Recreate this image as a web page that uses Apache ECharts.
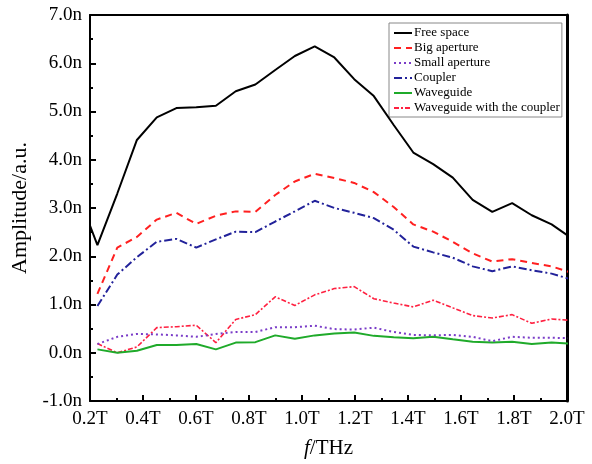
<!DOCTYPE html>
<html>
<head>
<meta charset="utf-8">
<script src="https://cdn.jsdelivr.net/npm/echarts@6/dist/echarts.min.js"></script>
<style>
html,body{margin:0;padding:0;background:#fff;}
#chart{width:592px;height:464px;}
</style>
</head>
<body>
<div id="chart"></div>
<script>
// Frequency points (THz)
var freq = [0.154, 0.228, 0.303, 0.377, 0.452, 0.526, 0.601, 0.675, 0.750, 0.824, 0.899, 0.973, 1.048, 1.122, 1.197, 1.271, 1.346, 1.420, 1.495, 1.569, 1.644, 1.718, 1.793, 1.867, 1.942, 2.016];
// Amplitudes (n a.u.)
var freeSpace = [3.30, 2.23, 3.30, 4.41, 4.88, 5.07, 5.09, 5.12, 5.42, 5.56, 5.86, 6.15, 6.35, 6.12, 5.67, 5.32, 4.72, 4.15, 3.91, 3.63, 3.17, 2.92, 3.10, 2.85, 2.66, 2.38];
var bigAperture = [null, 1.22, 2.18, 2.40, 2.76, 2.90, 2.67, 2.84, 2.93, 2.92, 3.27, 3.55, 3.71, 3.62, 3.52, 3.33, 3.02, 2.66, 2.51, 2.30, 2.06, 1.89, 1.94, 1.86, 1.79, 1.66];
var smallAperture = [null, 0.18, 0.33, 0.39, 0.38, 0.36, 0.33, 0.39, 0.43, 0.43, 0.53, 0.53, 0.56, 0.49, 0.48, 0.52, 0.43, 0.37, 0.36, 0.37, 0.33, 0.24, 0.33, 0.31, 0.31, 0.30];
var coupler = [null, 0.97, 1.62, 1.98, 2.30, 2.36, 2.18, 2.35, 2.51, 2.50, 2.72, 2.93, 3.15, 3.00, 2.90, 2.79, 2.55, 2.20, 2.08, 1.97, 1.79, 1.69, 1.79, 1.71, 1.64, 1.52];
var waveguide = [null, 0.07, 0.00, 0.04, 0.16, 0.16, 0.18, 0.07, 0.21, 0.22, 0.36, 0.29, 0.36, 0.40, 0.42, 0.35, 0.32, 0.30, 0.33, 0.28, 0.23, 0.21, 0.23, 0.18, 0.21, 0.19];
var waveguideCoupler = [null, 0.19, 0.00, 0.12, 0.52, 0.54, 0.57, 0.21, 0.69, 0.79, 1.16, 0.98, 1.20, 1.33, 1.37, 1.12, 1.03, 0.95, 1.09, 0.93, 0.77, 0.72, 0.79, 0.61, 0.70, 0.67];

var seriesNames = ['Free space', 'Big aperture', 'Small aperture', 'Coupler', 'Waveguide', 'Waveguide with the coupler'];
var seriesValues = [freeSpace, bigAperture, smallAperture, coupler, waveguide, waveguideCoupler];
var seriesColors = ['#000000', '#ff2020', '#7a3cc8', '#22229a', '#1faa2a', '#ff2040'];
var seriesDash = ['solid', [7, 5], [2, 3], [8, 3, 2, 3], 'solid', [5, 2, 2, 2]];
var seriesWidth = [2, 2, 2, 2, 2, 1.6];

var serif = 'Liberation Serif, Times New Roman, serif';

function pairs(vals) {
  return freq.map(function (f, i) { return [f, vals[i]]; });
}

var series = seriesNames.map(function (name, i) {
  return {
    name: name,
    type: 'line',
    data: pairs(seriesValues[i]),
    symbol: 'none',
    clip: true,
    connectNulls: false,
    lineStyle: { color: seriesColors[i], width: seriesWidth[i], type: seriesDash[i] },
    itemStyle: { color: seriesColors[i] },
    z: 10 - i
  };
});

var chart = echarts.init(document.getElementById('chart'), null, { renderer: 'canvas' });
chart.setOption({
  backgroundColor: '#ffffff',
  animation: false,
  grid: { left: 90, right: 25, top: 15, bottom: 59 },
  legend: {
    orient: 'vertical',
    left: 389,
    top: 23,
    padding: [3, 2, 2, 4],
    itemGap: 1,
    itemWidth: 18,
    itemHeight: 10,
    itemStyle: { opacity: 0 },
    borderColor: '#888',
    borderWidth: 1,
    backgroundColor: '#ffffff',
    textStyle: { fontFamily: serif, fontSize: 13, lineHeight: 14, color: '#000', padding: [0, 0, 0, -3] },
    data: seriesNames
  },
  xAxis: [{
    type: 'value',
    min: 0.2, max: 2.0, interval: 0.2,
    name: '{i|f}/THz',
    nameLocation: 'middle',
    nameGap: 37,
    nameTextStyle: { fontFamily: serif, fontSize: 21, color: '#000',
      rich: { i: { fontFamily: serif, fontSize: 21, fontStyle: 'italic', color: '#000' } } },
    axisLine: { show: true, onZero: false, lineStyle: { color: '#000', width: 2 } },
    axisTick: { show: true, inside: true, length: 6, lineStyle: { color: '#000', width: 2 } },
    minorTick: { show: true, splitNumber: 2, length: 3, lineStyle: { color: '#000', width: 2 } },
    axisLabel: { fontFamily: serif, fontSize: 19, color: '#000', margin: 9,
      formatter: function (v) { return v.toFixed(1) + 'T'; } },
    splitLine: { show: false }
  }, {
    type: 'value', position: 'top',
    min: 0.2, max: 2.0,
    axisLine: { show: true, onZero: false, lineStyle: { color: '#000', width: 2 } },
    axisTick: { show: false }, axisLabel: { show: false }, splitLine: { show: false }
  }],
  yAxis: [{
    type: 'value',
    min: -1, max: 7, interval: 1,
    name: 'Amplitude/a.u.',
    nameLocation: 'middle',
    nameGap: 57,
    nameTextStyle: { fontFamily: serif, fontSize: 22, color: '#000' },
    axisLine: { show: true, onZero: false, lineStyle: { color: '#000', width: 2 } },
    axisTick: { show: true, inside: true, length: 6, lineStyle: { color: '#000', width: 2 } },
    minorTick: { show: true, splitNumber: 2, length: 3, lineStyle: { color: '#000', width: 2 } },
    axisLabel: { fontFamily: serif, fontSize: 19, color: '#000', margin: 8,
      formatter: function (v) { return v.toFixed(1) + 'n'; } },
    splitLine: { show: false }
  }, {
    type: 'value', position: 'right',
    min: -1, max: 7,
    axisLine: { show: true, onZero: false, lineStyle: { color: '#000', width: 3 } },
    axisTick: { show: false }, axisLabel: { show: false }, splitLine: { show: false }
  }],
  series: series
});
</script>
</body>
</html>
